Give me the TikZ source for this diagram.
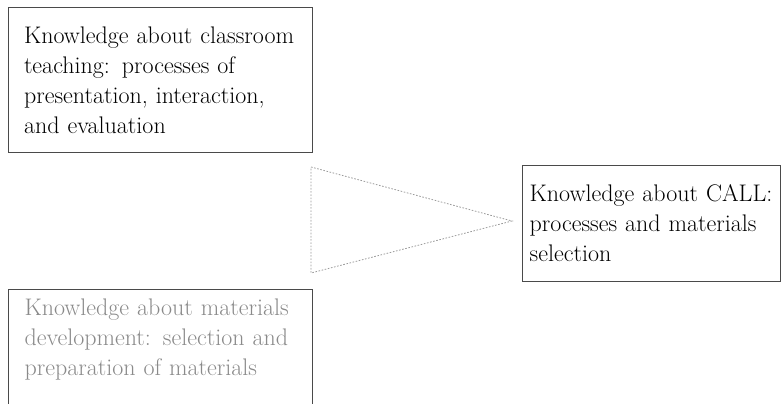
\documentclass[tikz,border=0pt]{standalone}
\usepackage{xcolor}
\usepackage{tikz}
\usetikzlibrary{positioning,calc}
\definecolor{frame}{HTML}{4A4A4A}
\definecolor{faded}{HTML}{8A8A8A}
\definecolor{dots}{HTML}{9A9A9A}
\tikzset{
  box/.style={draw=frame, line width=0.75pt, rectangle, align=left, inner ysep=0pt,
    font=\fontsize{18}{22.5}\selectfont},
  know/.style={box, minimum width=228pt, minimum height=108pt, text width=204pt, inner xsep=12pt},
  call/.style={box, minimum width=193.5pt, minimum height=87pt, text width=182pt, inner xsep=5.75pt},
  past/.style={box, text=faded, minimum width=228pt, text width=204pt, inner xsep=12pt,
    inner ysep=7pt, text depth=80pt},
  funnel/.style={draw=dots, line width=0.6pt, dash pattern=on 1.2pt off 1.2pt}
}
\begin{document}
\begin{tikzpicture}[x=0.75pt,y=-0.75pt]
\clip (0,0) rectangle (784,403);
\node[know] (cls) at (160,80) {Knowledge about classroom\\teaching: processes of\\presentation, interaction,\\and evaluation};
\node[call] (sel) at (651,223) {Knowledge~about~CALL:\\processes and materials\\selection};
\node[past, anchor=north west] (mat) at (8,289) {Knowledge about materials\\development: selection and\\preparation of materials};
\coordinate (top) at (311,167);
\coordinate (bot) at (311,273);
\coordinate (tip) at (512,221);
\draw[funnel] (top) -- (tip) -- (bot) -- cycle;
\end{tikzpicture}
\end{document}
